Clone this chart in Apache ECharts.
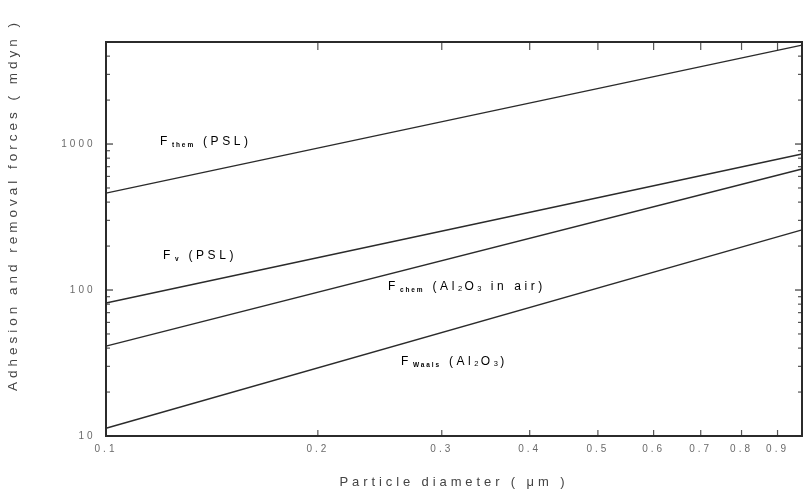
<!DOCTYPE html>
<html>
<head>
<meta charset="utf-8">
<script src="https://cdn.jsdelivr.net/npm/echarts@6/dist/echarts.min.js"></script>
<style>
  html, body { margin: 0; padding: 0; background: #fff; }
  #chart { width: 805px; height: 497px; }
</style>
</head>
<body>
<div id="chart"></div>
<script>
// axis range
const xMin = 0.1, xMax = 0.975;
const yMin = 10, yMax = 5000;

// tick labels
const xTickLabels = [0.1, 0.2, 0.3, 0.4, 0.5, 0.6, 0.7, 0.8, 0.9];
const yTickLabels = [10, 100, 1000];
const xMinorTicks = [0.2, 0.3, 0.4, 0.5, 0.6, 0.7, 0.8, 0.9];
const yMinorTicks = [20, 30, 40, 50, 60, 70, 80, 90, 200, 300, 400, 500, 600, 700, 800, 900, 2000, 3000, 4000, 5000];

// series: diameter (um) -> force (mdyn)
const diameters = [0.1, 0.975];
const fThemPSL = [461, 4760];
const fVPSL = [81.5, 855];
const fChemAl2O3 = [41.3, 674];
const fWaalsAl2O3 = [11.3, 258];

const ink = "#2b2b2b";
const textGray = "#444";
const font = "Liberation Sans, Arial, sans-serif";

// the scanned figure uses widely spaced lettering; canvas letterSpacing
// is set for both measuring and drawing so layout stays consistent
(function () {
  const proto = CanvasRenderingContext2D.prototype;
  const spaced = fn => function () {
    const m = /([\d.]+)px/.exec(this.font);
    if (m) this.letterSpacing = (parseFloat(m[1]) * 0.3).toFixed(1) + "px";
    return fn.apply(this, arguments);
  };
  proto.fillText = spaced(proto.fillText);
  proto.strokeText = spaced(proto.strokeText);
  proto.measureText = spaced(proto.measureText);
})();

function pairs(ys) {
  return diameters.map((d, i) => [d, ys[i]]);
}

function tickSeries(data, size, offset) {
  return {
    type: "scatter",
    data: data,
    symbol: "rect",
    symbolSize: size,
    symbolOffset: offset,
    itemStyle: { color: ink },
    clip: false,
    silent: true,
    z: 5
  };
}

function lineSeries(name, ys) {
  return {
    name: name,
    type: "line",
    data: pairs(ys),
    showSymbol: false,
    lineStyle: { color: ink, width: 1.4 },
    silent: true
  };
}

const mainStyle = { fontSize: 12, fontFamily: font, color: textGray };
const subStyle = { fontSize: 6.5, fontWeight: "bold", fontFamily: font, color: textGray, padding: [6, 1, 0, 1] };
const idxStyle = { fontSize: 7.5, fontFamily: font, color: textGray, padding: [5, 0, 0, 0] };
function curveLabel(x, y, text) {
  return {
    type: "text",
    left: x,
    top: y,
    style: {
      text: text,
      rich: { f: mainStyle, s: subStyle, t: mainStyle, sb: idxStyle }
    }
  };
}

const chart = echarts.init(document.getElementById("chart"));
chart.setOption({
  animation: false,
  grid: { left: 106, right: 3, top: 42, bottom: 61, show: true, borderColor: ink, borderWidth: 2 },
  xAxis: {
    type: "log",
    logBase: 10,
    min: xMin,
    max: xMax,
    axisLine: { show: false },
    axisTick: { show: false },
    axisLabel: { show: false },
    splitLine: { show: false },
    name: "Particle diameter ( μm )",
    nameLocation: "middle",
    nameGap: 38,
    nameTextStyle: { fontSize: 13, fontFamily: font, color: textGray }
  },
  yAxis: {
    type: "log",
    logBase: 10,
    min: yMin,
    max: yMax,
    axisLine: { show: false },
    axisTick: { show: false },
    axisLabel: { show: false },
    splitLine: { show: false }
  },
  graphic: [
    {
      type: "text",
      x: 13,
      y: 205,
      rotation: Math.PI / 2,
      style: {
        text: "Adhesion and removal forces ( mdyn )",
        fontSize: 13.5,
        fontFamily: font,
        fill: textGray,
        align: "center",
        verticalAlign: "middle"
      }
    },
    curveLabel(160, 134, "{f|F}{s|them} {t|(PSL)}"),
    curveLabel(163, 248, "{f|F}{s|v} {t|(PSL)}"),
    curveLabel(388, 279, "{f|F}{s|chem} {t|(Al}{sb|2}{t|O}{sb|3}{t| in air)}"),
    curveLabel(401, 354, "{f|F}{s|Waals} {t|(Al}{sb|2}{t|O}{sb|3}{t|)}")
  ],
  series: [
    lineSeries("F them (PSL)", fThemPSL),
    lineSeries("F v (PSL)", fVPSL),
    lineSeries("F chem (Al2O3 in air)", fChemAl2O3),
    lineSeries("F Waals (Al2O3)", fWaalsAl2O3),
    // minor ticks, all pointing into the plot
    tickSeries(xMinorTicks.map(v => [v, yMin]), [1.2, 6], [0, -3]),
    tickSeries(xMinorTicks.map(v => [v, yMax]), [1.2, 8], [0, 4]),
    tickSeries(yMinorTicks.map(v => [xMin, v]), [4, 1.2], [2, 0]),
    tickSeries(yMinorTicks.map(v => [xMax, v]), [4, 1.2], [-2, 0]),
    tickSeries(yTickLabels.map(v => [xMin, v]), [7, 1.4], [3.5, 0]),
    tickSeries(yTickLabels.map(v => [xMax, v]), [7, 1.4], [-3.5, 0]),
    // tick labels
    {
      type: "scatter",
      data: xTickLabels.map(v => [v, yMin]),
      symbolSize: 1,
      itemStyle: { color: "transparent" },
      clip: false,
      silent: true,
      label: {
        show: true,
        position: "bottom",
        distance: 6,
        formatter: p => String(p.value[0]),
        fontSize: 10,
        fontFamily: font,
        color: textGray
      }
    },
    {
      type: "scatter",
      data: yTickLabels.map(v => [xMin, v]),
      symbolSize: 1,
      itemStyle: { color: "transparent" },
      clip: false,
      silent: true,
      label: {
        show: true,
        position: "left",
        distance: 10,
        formatter: p => String(p.value[1]),
        fontSize: 10,
        fontFamily: font,
        color: textGray
      }
    }
  ]
});
</script>
</body>
</html>
